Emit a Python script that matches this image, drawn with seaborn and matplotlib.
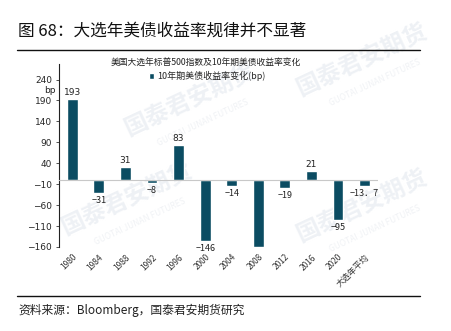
import matplotlib
matplotlib.use("Agg")
import matplotlib.pyplot as plt
import seaborn as sns
import pandas as pd

sns.set_theme(style="white")
plt.rcParams['font.family'] = ['Noto Sans CJK SC', 'DejaVu Sans']
plt.rcParams['axes.unicode_minus'] = False

# 10-year US Treasury yield change (bp) in US election years
years = ["1980", "1984", "1988", "1992", "1996", "2000", "2004", "2008",
         "2012", "2016", "2020", "大选年平均"]
changes = [193, -31, 31, -8, 83, -146, -14, -160, -19, 21, -95, -13.7]
labels = ["193", "-31", "31", "-8", "83", "-146", "-14", "",
          "-19", "21", "-95", "-13.7"]
yticks = [-160, -110, -60, -10, 40, 90, 140, 190, 240]

df = pd.DataFrame({"year": years, "change": changes})
bar_color = "#0b4c62"

fig = plt.figure(figsize=(4.52, 3.31), dpi=100)
fig.patch.set_facecolor("white")

# faint diagonal watermark behind the plot
for (wx, wy) in [(0.42, 0.70), (0.80, 0.82), (0.28, 0.40), (0.80, 0.38)]:
    fig.text(wx, wy, "国泰君安期货", fontsize=17, color="#eef1f5",
             rotation=25, ha="center", va="center", fontweight="bold",
             zorder=-5)
    fig.text(wx + 0.03, wy - 0.07, "GUOTAI JUNAN FUTURES", fontsize=6,
             color="#f0f2f5", rotation=25, ha="center", va="center",
             zorder=-5)

ax = fig.add_axes([0.1305, 0.2538, 0.7055, 0.5528])
ax.set_facecolor("none")
sns.barplot(data=df, x="year", y="change", color=bar_color, width=0.41,
            saturation=1, ax=ax, zorder=3, label="10年期美债收益率变化(bp)")

ax.set_ylim(-160, 277)
ax.set_xlim(-0.5, 11.5)
ax.axhline(0, color="#c8c8c8", linewidth=0.8, zorder=4)
ax.set_yticks(yticks)
ax.set_yticklabels([f"{t}".replace("-", "−") for t in yticks], fontsize=6.5,
                   family=['DejaVu Sans'])
ax.set_xlabel("")
ax.set_ylabel("")
ax.set_xticks(range(len(years)))
ax.set_xticklabels(years, rotation=45, ha="right", rotation_mode="anchor",
                   fontsize=6, color="#333333")
ax.tick_params(axis="x", length=0, pad=4)
ax.tick_params(axis="y", length=2, width=0.6, color="#333333", pad=3,
               left=True)

for s in ["top", "right", "bottom"]:
    ax.spines[s].set_visible(False)
ax.spines["left"].set_color("#222222")
ax.spines["left"].set_linewidth(0.8)

# value labels
for i, (v, lab) in enumerate(zip(changes, labels)):
    if not lab:
        continue
    txt = lab.replace("-", "−").replace(".", "．")
    if v >= 0:
        ax.text(i, v + 6, txt, ha="center", va="bottom", fontsize=6.5,
                family=['DejaVu Sans'], color="#222222")
    else:
        ax.text(i, v - 7, txt, ha="center", va="top", fontsize=6.5,
                family=['Noto Sans CJK SC', 'DejaVu Sans'], color="#222222")

fig.text(0.098, 0.728, "bp", ha="left", va="center", fontsize=6.5,
         color="#222222", family=['DejaVu Sans'])

leg = ax.legend(loc="upper left", bbox_to_anchor=(0.27, 0.98), frameon=False,
                fontsize=6.5, handlelength=0.6, handleheight=0.6,
                handletextpad=0.3, borderaxespad=0)

# title, subtitle and source
fig.text(0.04, 0.905, "图 68：大选年美债收益率规律并不显著", fontsize=12,
         ha="left", va="center", color="#111111")
fig.add_artist(plt.Line2D([0.038, 0.93], [0.85, 0.85], color="#111111",
                          linewidth=1.0, transform=fig.transFigure))
fig.text(0.455, 0.812, "美国大选年标普500指数及10年期美债收益率变化",
         fontsize=6.3, ha="center", va="center", color="#222222")
fig.add_artist(plt.Line2D([0.038, 0.93], [0.105, 0.105], color="#111111",
                          linewidth=1.0, transform=fig.transFigure))
fig.text(0.04, 0.062, "资料来源：Bloomberg，国泰君安期货研究", fontsize=8.5,
         ha="left", va="center", color="#222222")

fig.savefig("out.png", dpi=100, facecolor="white")
